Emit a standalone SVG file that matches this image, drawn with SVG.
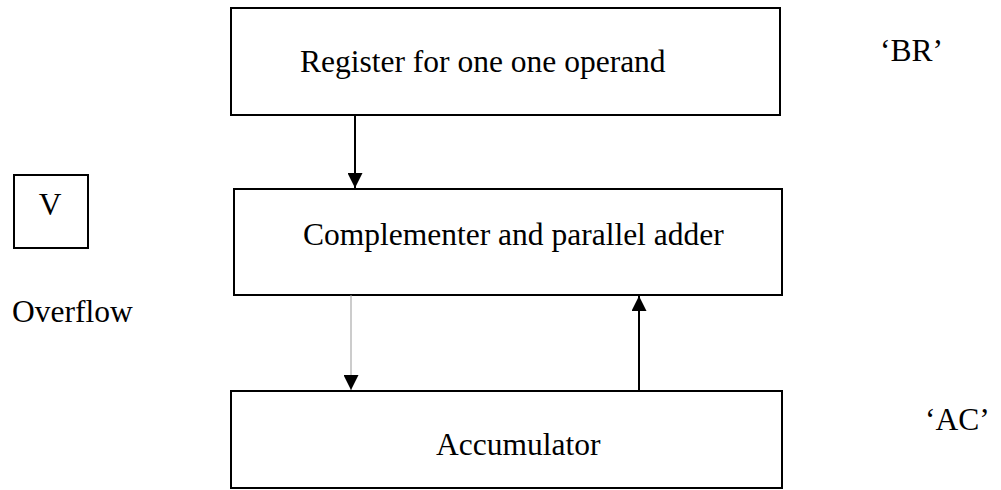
<svg xmlns="http://www.w3.org/2000/svg" width="1001" height="490" viewBox="0 0 1001 490">
<defs>
<style>
.box{fill:#fff;stroke:#000;stroke-width:2}
.t{font-family:"Liberation Serif","Times New Roman",serif;font-size:31.5px;fill:#000}
.c{stroke:#000;stroke-width:2;fill:none}
</style>
<marker id="ah" markerWidth="15" markerHeight="15" viewBox="0 0 15 15" refX="15" refY="7.5" orient="auto" markerUnits="userSpaceOnUse">
<path d="M0,0 L15,7.5 L0,15 Z" fill="#000"/>
</marker>
</defs>
<rect width="1001" height="490" fill="#fff"/>
<g id="br-register">
<rect class="box" x="231" y="8" width="549" height="107"/>
<text class="t" x="300" y="72">Register for one one operand</text>
</g>
<g id="adder">
<rect class="box" x="234" y="189" width="548" height="106"/>
<text class="t" x="303" y="245">Complementer and parallel adder</text>
</g>
<g id="accumulator">
<rect class="box" x="231" y="391" width="551" height="97"/>
<text class="t" x="436" y="455">Accumulator</text>
</g>
<g id="v-box">
<rect class="box" x="14" y="175" width="74" height="73"/>
<text class="t" x="50" y="215" text-anchor="middle">V</text>
</g>
<g id="labels">
<text class="t" x="12" y="322">Overflow</text>
<text class="t" x="880" y="61">‘BR’</text>
<text class="t" x="925" y="430">‘AC’</text>
</g>
<g id="connectors">
<line class="c" x1="355" y1="115" x2="355" y2="188" marker-end="url(#ah)"/>
<line x1="351" y1="295" x2="351" y2="390" stroke="#999" stroke-width="1" marker-end="url(#ah)"/>
<line class="c" x1="639" y1="391" x2="639" y2="296" marker-end="url(#ah)"/>
</g>
</svg>
